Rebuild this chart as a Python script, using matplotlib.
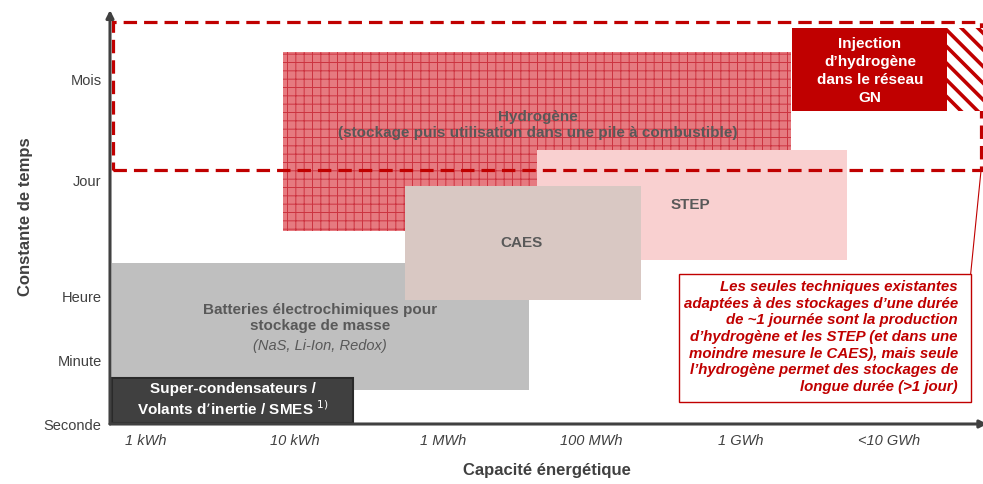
import matplotlib
matplotlib.use("Agg")
import matplotlib.pyplot as plt
from matplotlib.patches import Rectangle

plt.rcParams['font.family'] = ['Liberation Sans', 'DejaVu Sans']

# ---------------- data ----------------
capacity_labels = ["1 kWh", "10 kWh", "1 MWh", "100 MWh", "1 GWh", "<10 GWh"]
capacity_pos = [0, 1, 2, 3, 4, 5]

time_labels = ["Seconde", "Minute", "Heure", "Jour", "Mois"]
time_pos = [0.0, 0.63, 1.27, 2.44, 3.44]

# technologies: extents in (capacity index, time level)
tech_names = ["Batteries", "Super", "Hydrogene", "STEP", "CAES"]
tech_x0 = [-0.23, -0.23, 0.92, 2.63, 1.74]
tech_x1 = [2.58, 1.39, 4.34, 4.72, 3.33]
tech_y0 = [0.34, 0.01, 1.93, 1.64, 1.24]
tech_y1 = [1.61, 0.46, 3.72, 2.74, 2.38]

# long-duration zone (dashed), injection box, hatched part
zone_x = [-0.225, 5.62]
zone_y = [2.54, 4.02]
inj_x = [4.35, 5.39]
inj_y = [3.13, 3.96]
inj_hatch_x = [5.39, 5.65]

# annotation box
note_x = [3.59, 5.55]
note_y = [0.22, 1.50]

# ---------------- figure ----------------
W, H = 983, 484
fig = plt.figure(figsize=(W / 100, H / 100), dpi=100)
ax = fig.add_axes([110 / W, (H - 424) / H, (983 - 110) / W, (424 - 10) / H])
ax.set_xlim(-0.242, 5.633)
ax.set_ylim(0, 4.14)
for s in ax.spines.values():
    s.set_visible(False)
ax.set_xticks(capacity_pos)
ax.set_xticklabels(capacity_labels, fontstyle='italic', fontsize=10.5, color='#404040')
ax.set_yticks(time_pos)
ax.set_yticklabels(time_labels, fontsize=10.5, color='#404040')
ax.tick_params(length=0, pad=6)
ax.tick_params(axis='x', pad=7)

ax.set_xlabel("Capacité énergétique", fontsize=12, fontweight='bold', color='#404040', labelpad=11)
ax.set_ylabel("Constante de temps", fontsize=12, fontweight='bold', color='#404040', labelpad=8)

axis_col = '#404040'
ax.annotate("", xy=(0, 1.0), xytext=(0, 0), xycoords='axes fraction',
            arrowprops=dict(arrowstyle='-|>', color=axis_col, lw=2.2, mutation_scale=11,
                            shrinkA=0, shrinkB=0), zorder=10, annotation_clip=False)
ax.annotate("", xy=(1.005, 0), xytext=(0, 0), xycoords='axes fraction',
            arrowprops=dict(arrowstyle='-|>', color=axis_col, lw=2.2, mutation_scale=11,
                            shrinkA=0, shrinkB=0), zorder=10, annotation_clip=False)

styles = {
    "Batteries": dict(facecolor='#bfbfbf', edgecolor='none', z=2),
    "Super": dict(facecolor='#404040', edgecolor='#2a2a2a', z=3),
    "Hydrogene": dict(facecolor='#e67a80', edgecolor='#cc3340', z=2, hatch='++'),
    "STEP": dict(facecolor='#f9d0d0', edgecolor='none', z=3),
    "CAES": dict(facecolor='#d9c8c3', edgecolor='none', z=4),
}
for name, x0, x1, y0, y1 in zip(tech_names, tech_x0, tech_x1, tech_y0, tech_y1):
    st = styles[name]
    if 'hatch' in st:
        with plt.rc_context({'hatch.linewidth': 0.7, 'hatch.color': st['edgecolor']}):
            r = Rectangle((x0, y0), x1 - x0, y1 - y0, facecolor=st['facecolor'],
                          edgecolor=st['edgecolor'], hatch=st['hatch'], lw=0, zorder=st['z'])
            ax.add_patch(r)
    else:
        r = Rectangle((x0, y0), x1 - x0, y1 - y0, facecolor=st['facecolor'],
                      edgecolor=st['edgecolor'], lw=1.5 if st['edgecolor'] != 'none' else 0,
                      zorder=st['z'])
        ax.add_patch(r)

red = '#c00000'
# dashed long-duration zone
ax.add_patch(Rectangle((zone_x[0], zone_y[0]), zone_x[1] - zone_x[0], zone_y[1] - zone_y[0],
                       facecolor='none', edgecolor=red, lw=2.3, ls=(0, (4.2, 2.2)), zorder=6))
# injection box
ax.add_patch(Rectangle((inj_x[0], inj_y[0]), inj_x[1] - inj_x[0], inj_y[1] - inj_y[0],
                       facecolor=red, edgecolor='none', zorder=7))
with plt.rc_context({'hatch.linewidth': 2.6, 'hatch.color': red}):
    hp = Rectangle((inj_hatch_x[0], inj_y[0]), inj_hatch_x[1] - inj_hatch_x[0], inj_y[1] - inj_y[0],
                   facecolor='white', edgecolor=red, lw=0, hatch='\\\\', zorder=7)
    ax.add_patch(hp)

# annotation box
ax.add_patch(Rectangle((note_x[0], note_y[0]), note_x[1] - note_x[0], note_y[1] - note_y[0],
                       facecolor='white', edgecolor=red, lw=1.0, zorder=6))
ax.plot([zone_x[1], note_x[1]], [zone_y[0], note_y[1]], color=red, lw=0.8, zorder=6, clip_on=False)

txt_grey = '#595959'
ax.text(2.638, 2.99, "Hydrogène\n(stockage puis utilisation dans une pile à combustible)",
        ha='center', va='center', fontsize=11, fontweight='bold', color=txt_grey, zorder=8,
        linespacing=1.15)
ax.text(1.171, 1.06, "Batteries électrochimiques pour\nstockage de masse",
        ha='center', va='center', fontsize=11, fontweight='bold', color=txt_grey, zorder=8,
        linespacing=1.15)
ax.text(1.171, 0.78, "(NaS, Li-Ion, Redox)", ha='center', va='center', fontsize=10.5,
        fontstyle='italic', color=txt_grey, zorder=8)
ax.text(0.585, 0.24, "Super-condensateurs /\nVolants d’inertie / SMES $^{1)}$",
        ha='center', va='center', fontsize=11, fontweight='bold', color='white', zorder=8,
        linespacing=1.2)
ax.text(2.53, 1.81, "CAES", ha='center', va='center', fontsize=11, fontweight='bold',
        color=txt_grey, zorder=8)
ax.text(3.661, 2.19, "STEP", ha='center', va='center', fontsize=11, fontweight='bold',
        color=txt_grey, zorder=8)
ax.text(4.872, 3.53, "Injection\nd’hydrogène\ndans le réseau\nGN", ha='center', va='center',
        fontsize=11, fontweight='bold', color='white', zorder=8, linespacing=1.38)
ax.text(5.464, 0.87,
        "Les seules techniques existantes\nadaptées à des stockages d’une durée\n"
        "de ~1 journée sont la production\nd’hydrogène et les STEP (et dans une\n"
        "moindre mesure le CAES), mais seule\nl’hydrogène permet des stockages de\n"
        "longue durée (>1 jour)",
        ha='right', va='center', multialignment='right', fontsize=10.8, fontweight='bold',
        fontstyle='italic', color=red, zorder=8, linespacing=1.24)

fig.savefig("out.png", dpi=100)
